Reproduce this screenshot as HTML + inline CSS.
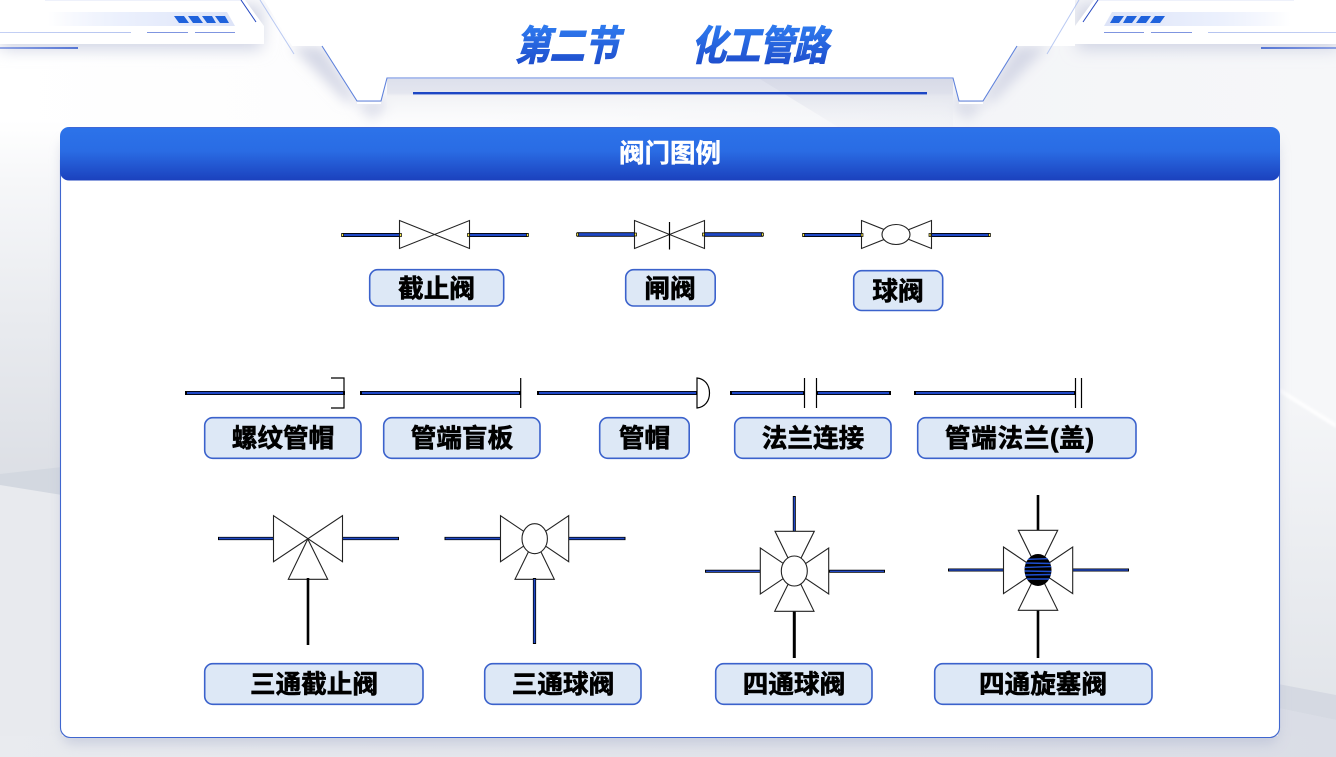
<!DOCTYPE html>
<html lang="zh">
<head>
<meta charset="utf-8">
<title>第二节 化工管路 - 阀门图例</title>
<style>
html,body{margin:0;padding:0;width:1336px;height:757px;overflow:hidden;background:#fff}
svg{display:block;position:absolute;left:0;top:0}
text{font-family:"Liberation Sans","Noto Sans CJK SC",sans-serif;font-weight:700}
.lb rect{fill:#dde8f6;stroke:#3b62cc;stroke-width:1.6}
.lb text{fill:#000;font-size:25.6px;text-anchor:middle;stroke:#000;stroke-width:.6px}
.v{fill:#fff;stroke:#222;stroke-width:1.1}
.po{stroke:#000;stroke-width:4;fill:none}
.pi{stroke:#1f48c6;stroke-width:2.3;fill:none}
.bk{stroke:#000;stroke-width:2.6;fill:none}
.tk{stroke:#000;stroke-width:1.2;fill:none}
.yl{fill:#f6e84a;stroke:#000;stroke-width:.7}
</style>
</head>
<body>
<svg width="1336" height="757" viewBox="0 0 1336 757" xmlns="http://www.w3.org/2000/svg">
<defs>
<linearGradient id="bgh" x1="0" y1="0" x2="1" y2="0">
<stop offset="0" stop-color="#ffffff"/><stop offset=".45" stop-color="#fbfbfc"/><stop offset=".72" stop-color="#f4f5f8"/><stop offset="1" stop-color="#f6f7f9"/>
</linearGradient>
<linearGradient id="lc" gradientUnits="userSpaceOnUse" x1="0" y1="120" x2="0" y2="480">
<stop offset="0" stop-color="#ffffff"/><stop offset=".17" stop-color="#f6f7f9"/><stop offset=".55" stop-color="#e9ebef"/><stop offset="1" stop-color="#dcdfe5"/>
</linearGradient>
<linearGradient id="rc" gradientUnits="userSpaceOnUse" x1="0" y1="390" x2="0" y2="700">
<stop offset="0" stop-color="#f5f6f8"/><stop offset="1" stop-color="#e2e5ea"/>
</linearGradient>
<linearGradient id="bt" x1="0" y1="0" x2="1" y2="0">
<stop offset="0" stop-color="#e9ebef"/><stop offset="1" stop-color="#dadde6"/>
</linearGradient>
<linearGradient id="strip" x1="0" y1="0" x2="1" y2="0">
<stop offset="0" stop-color="#e4eafb" stop-opacity="0"/><stop offset=".4" stop-color="#ebf0fd"/><stop offset="1" stop-color="#dde4f8"/>
</linearGradient>
<linearGradient id="sh" gradientUnits="userSpaceOnUse" x1="0" y1="79" x2="0" y2="126">
<stop offset="0" stop-color="#dde0ec"/><stop offset=".3" stop-color="#e4e6ef"/><stop offset=".36" stop-color="#f1f2f5"/><stop offset="1" stop-color="#f8f9fb" stop-opacity="0"/>
</linearGradient>
<linearGradient id="hd" x1="0" y1="0" x2="0" y2="1">
<stop offset="0" stop-color="#2c73ea"/><stop offset=".45" stop-color="#2a6ce4"/><stop offset="1" stop-color="#1b41bd"/>
</linearGradient>
<linearGradient id="ttl" x1="0" y1="0" x2="0" y2="1">
<stop offset="0" stop-color="#2f7cf0"/><stop offset="1" stop-color="#1c48c8"/>
</linearGradient>
<linearGradient id="dg" gradientUnits="userSpaceOnUse" x1="0" y1="79" x2="0" y2="127">
<stop offset="0" stop-color="#d4d7e5" stop-opacity=".7"/><stop offset="1" stop-color="#e6e8ef" stop-opacity=".15"/>
</linearGradient>
<linearGradient id="lnf" x1="0" y1="0" x2="1" y2="0">
<stop offset="0" stop-color="#c4d0f4"/><stop offset="1" stop-color="#b5c4f0"/>
</linearGradient>
<linearGradient id="bar" x1="0" y1="0" x2="1" y2="0">
<stop offset="0" stop-color="#7f96e0"/><stop offset="1" stop-color="#3d62cf"/>
</linearGradient>
<filter id="blur8" x="-30%" y="-50%" width="160%" height="220%"><feGaussianBlur stdDeviation="8"/></filter>
<filter id="blur6" x="-30%" y="-30%" width="160%" height="160%"><feGaussianBlur stdDeviation="6"/></filter>
<filter id="blur1" x="-10%" y="-50%" width="120%" height="200%"><feGaussianBlur stdDeviation="1"/></filter>
<clipPath id="ec"><ellipse cx="1038" cy="570" rx="13.5" ry="16"/></clipPath>

<g id="deco">
  <path d="M0 0H262V44H0Z" fill="#cfd3e3" filter="url(#blur8)" transform="translate(0,5)"/>
  <path d="M0 0H245L264 26V44H0Z" fill="#ffffff"/>
  <rect x="45" y="0" width="197" height="1" fill="#eef1fb"/>
  <path d="M48 12H227L235 26H48Z" fill="url(#strip)"/>
  <g fill="#1f62dc">
    <path d="M174 16H184L189 23H179Z"/><path d="M188 16H198L203 23H193Z"/><path d="M202 16H212L216 23H207Z"/><path d="M215 16H225L229 23H220Z"/>
  </g>
  <rect x="0" y="32" width="131" height="1" fill="url(#lnf)"/>
  <rect x="147" y="32" width="41" height="1" fill="#7f95e0"/>
  <rect x="195" y="32" width="40" height="1" fill="#7f95e0"/>
  <rect x="0" y="47" width="78" height="2" fill="url(#bar)" opacity=".85"/>
  <path d="M241 0L256 22" stroke="#2447c0" stroke-width="1" fill="none"/>
  <path d="M291 46H322L357 101H345Z" fill="#d5d8e6" filter="url(#blur6)"/>
</g>
</defs>

<!-- background -->
<rect width="1336" height="757" fill="url(#bgh)"/>
<rect x="0" y="120" width="62" height="370" fill="url(#lc)"/>
<path d="M0 480H62V757H0Z" fill="#e8eaee"/>
<path d="M0 474L62 467V495L0 485Z" fill="#d3d8e0"/>
<path d="M1278 386L1336 423V757H1278Z" fill="url(#rc)"/>
<path d="M1278 684L1336 695V720L1278 708Z" fill="#d5d9e2"/>
<path d="M1278 708L1336 720V757H1278Z" fill="#dadde6"/>
<path d="M1280 388L1336 423V428L1280 393Z" fill="#fff" opacity=".9" filter="url(#blur1)"/>
<rect x="0" y="736" width="1336" height="21" fill="url(#bt)"/>

<!-- top shading -->
<path d="M352 100H381L387 82V108L372 120Z" fill="#c4c8dc" opacity=".55" filter="url(#blur6)"/>
<path d="M988 100H959L953 82V108L968 120Z" fill="#c4c8dc" opacity=".55" filter="url(#blur6)"/>
<path d="M387 79H953V127H387Z" fill="url(#sh)"/>
<path d="M760 79H953V127H838Z" fill="url(#dg)"/>

<use href="#deco"/>
<use href="#deco" transform="translate(1339,0) scale(-1,1)"/>

<!-- central tab -->
<path d="M264 0H1075V46H1017L983 101H959L953 78H387L381 101H357L322 46H292Z" fill="#fff"/>
<path d="M322 46L357 101H381L387 78H953L959 101H983L1017 46" fill="none" stroke="#5f82dc" stroke-width="1.1"/>
<path d="M357 103H381M959 103H983" stroke="#fff" stroke-width="2"/>
<path d="M260 0L294 54" stroke="#a8bbef" stroke-width="1" fill="none" opacity=".8"/>
<path d="M1079 0L1047 54" stroke="#a8bbef" stroke-width="1" fill="none" opacity=".8"/>
<rect x="413" y="92" width="514" height="2.4" fill="#1c46c4"/>

<!-- title -->
<g fill="url(#ttl)" stroke="url(#ttl)" stroke-width="1" font-size="35">
  <text transform="translate(515,60) skewX(-13) scale(1,1.16)" textLength="104">第二节</text>
  <text transform="translate(691,60) skewX(-13) scale(1,1.16)" textLength="137">化工管路</text>
</g>

<!-- card -->
<rect x="62" y="140" width="1216" height="604" rx="10" fill="#aeb5cf" opacity=".5" filter="url(#blur6)"/>
<rect x="60.5" y="150" width="1219" height="587.5" rx="10" fill="#fff" stroke="#3f66cf" stroke-width="1.1"/>
<rect x="60" y="127" width="1220" height="53.5" rx="9" fill="url(#hd)"/>
<path d="M69 127.5H1271" stroke="#3e68d6" stroke-width="1"/>
<text x="670" y="162" fill="#fff" font-size="25.5" text-anchor="middle" stroke="#fff" stroke-width=".4">阀门图例</text>

<!-- Row 1 -->
<path class="po" d="M342 235H400M469 235H528"/><path class="pi" d="M343 235H399M470 235H527"/>
<path class="v" d="M399.5 220.5L469.5 248.5V220.5L399.5 248.5Z"/>
<rect class="yl" x="341.5" y="233.5" width="2" height="3"/><rect class="yl" x="399.5" y="233.5" width="2" height="3"/><rect class="yl" x="467.5" y="233.5" width="2" height="3"/><rect class="yl" x="526.5" y="233.5" width="2" height="3"/>

<path class="po" d="M577 234.5H635M704 234.5H763" style="stroke-width:4.6"/><path class="pi" d="M578 234.5H634M705 234.5H762" style="stroke-width:2.8"/>
<path class="v" d="M634.5 220.5L704.5 248.5V220.5L634.5 248.5Z"/>
<path class="tk" d="M669.5 222V249.5"/>
<rect class="yl" x="576.5" y="233" width="2" height="3"/><rect class="yl" x="634.5" y="233" width="2" height="3"/><rect class="yl" x="702.5" y="233" width="2" height="3"/><rect class="yl" x="761.5" y="233" width="2" height="3"/>

<path class="po" d="M803 235H862M930 235H990"/><path class="pi" d="M804 235H861M931 235H989"/>
<path class="v" d="M861.5 220.5L931.5 248.5V220.5L861.5 248.5Z"/>
<ellipse class="v" cx="896" cy="234.5" rx="14" ry="10"/>
<rect class="yl" x="802.5" y="233.5" width="2" height="3"/><rect class="yl" x="861" y="233.5" width="2" height="3"/><rect class="yl" x="929" y="233.5" width="2" height="3"/><rect class="yl" x="988.5" y="233.5" width="2" height="3"/>

<!-- Row 2 -->
<path class="po" d="M185 393H345M360 393H521M537 393H698M730 393H805M816 393H891M914 393H1076"/>
<path class="pi" d="M187 393H343M362 393H519M539 393H696M732 393H803M818 393H889M916 393H1074"/>
<path class="tk" d="M331 378H344V408H331M520.7 378V408M804.5 378V408M816.5 378V408M1075.5 378V408M1081.5 378V408"/>
<path class="tk" d="M697 378V408C705 407 709.5 401 709.5 393C709.5 385 705 379 697 378Z" style="fill:#fff"/>

<!-- Row 3: three-way globe -->
<path class="po" d="M218 538.5H274M342 538.5H399" style="stroke-width:3.2"/><path class="pi" d="M219 538.5H273M343 538.5H398" style="stroke-width:1.7"/>
<path class="v" d="M273.5 515.7L342.5 561.7V515.7L273.5 561.7Z"/>
<path class="v" d="M307.8 539L327.7 579.3H288.3Z"/>
<path class="bk" d="M308 578V645"/>

<!-- three-way ball -->
<path class="po" d="M444.5 538.5H501M568 538.5H625.5" style="stroke-width:3.2"/><path class="pi" d="M445.5 538.5H500M569 538.5H624.5" style="stroke-width:1.7"/>
<path class="v" d="M500.5 515.7L568.7 561.7V515.7L500.5 561.7Z"/>
<path class="v" d="M534.7 539L554.3 579.3H515Z"/>
<ellipse class="v" cx="534.7" cy="538.7" rx="12.7" ry="15"/>
<path class="po" d="M534.5 578V644" style="stroke-width:3.2"/><path class="pi" d="M534.5 579V643" style="stroke-width:1.7"/>

<!-- four-way ball -->
<path class="po" d="M705 571.3H761M829 571.3H885M794.3 496V532M794.3 611V658" style="stroke-width:3"/>
<path class="pi" d="M706 571.3H760M830 571.3H884M794.3 497V531" style="stroke-width:1.4"/>
<path class="v" d="M760.3 548L828.7 594V548L760.3 594Z"/>
<path class="v" d="M775 531.3H814.3L774.7 611.3H814Z"/>
<ellipse class="v" cx="794.3" cy="571" rx="13" ry="15"/>

<!-- four-way plug -->
<path class="po" d="M948 570H1004M1072 570H1129" style="stroke-width:3"/><path class="pi" d="M949 570H1003M1073 570H1128" style="stroke-width:1.4"/>
<path class="bk" d="M1038 495V531M1038 610V658"/>
<path class="v" d="M1003.5 547L1072.7 593.6V547L1003.5 593.6Z"/>
<path class="v" d="M1018.3 530.3H1057.7L1018.3 610.3H1057.7Z"/>
<ellipse cx="1038" cy="570" rx="13.5" ry="16" fill="#000"/>
<g clip-path="url(#ec)" stroke="#1f4fd0" stroke-width="1.4" fill="none">
  <path d="M1024 559.5L1052 558.5M1024 563L1052 563.5M1024 567.5L1052 566.5M1024 571L1052 571.5M1024 575L1052 574.5M1024 579L1052 579"/>
</g>

<!-- labels -->
<g class="lb">
<rect x="369.7" y="269.7" width="134" height="36.3" rx="8"/><text x="436.5" y="297.5">截止阀</text>
<rect x="625.7" y="269.7" width="89.5" height="36.3" rx="8"/><text x="670" y="297.5">闸阀</text>
<rect x="853.7" y="270.7" width="89" height="39.8" rx="8"/><text x="898" y="300">球阀</text>

<rect x="204.7" y="417.7" width="156.3" height="40.6" rx="8"/><text x="283" y="447">螺纹管帽</text>
<rect x="383.7" y="417.7" width="156.3" height="40.6" rx="8"/><text x="462" y="447">管端盲板</text>
<rect x="599.7" y="417.7" width="89.5" height="40.6" rx="8"/><text x="644.5" y="447">管帽</text>
<rect x="734.7" y="417.7" width="156.3" height="40.6" rx="8"/><text x="813" y="447">法兰连接</text>
<rect x="917.7" y="417.7" width="218.3" height="40.6" rx="8"/><text x="1019.5" y="447" textLength="149">管端法兰(盖)</text>

<rect x="204.7" y="663.7" width="218.3" height="40.6" rx="8"/><text x="314" y="693">三通截止阀</text>
<rect x="484.7" y="663.7" width="156.3" height="40.6" rx="8"/><text x="563" y="693">三通球阀</text>
<rect x="715.7" y="663.7" width="156.3" height="40.6" rx="8"/><text x="794" y="693">四通球阀</text>
<rect x="934.7" y="663.7" width="217.3" height="40.6" rx="8"/><text x="1043" y="693">四通旋塞阀</text>
</g>
</svg>
</body>
</html>
